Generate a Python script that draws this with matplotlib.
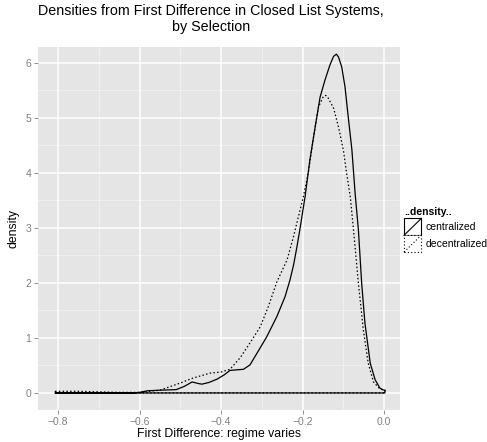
import matplotlib
matplotlib.use("Agg")
import matplotlib.pyplot as plt
from matplotlib.patches import Rectangle
from matplotlib.lines import Line2D
from matplotlib.legend_handler import HandlerBase

plt.rcParams['font.family'] = ['Liberation Sans', 'DejaVu Sans']

# ---- data ----
cent_x = [-0.807, -0.70, -0.62, -0.60, -0.58, -0.55, -0.51, -0.49, -0.471, -0.455, -0.447,
          -0.43, -0.41, -0.392, -0.378, -0.345, -0.329, -0.312, -0.288, -0.263, -0.243,
          -0.231, -0.222, -0.214, -0.206, -0.199, -0.194, -0.182, -0.169, -0.157, -0.145,
          -0.133, -0.124, -0.117, -0.112, -0.104, -0.096, -0.088, -0.079, -0.071, -0.063,
          -0.055, -0.047, -0.034, -0.022, -0.010, -0.002, 0.002]
cent_y = [0.0, 0.0, 0.0, 0.01, 0.04, 0.05, 0.06, 0.12, 0.2, 0.17, 0.16,
          0.19, 0.25, 0.33, 0.41, 0.43, 0.51, 0.72, 1.02, 1.39, 1.75,
          2.05, 2.33, 2.65, 3.0, 3.33, 3.56, 4.24, 4.84, 5.38, 5.69,
          5.96, 6.12, 6.16, 6.11, 5.93, 5.57, 5.02, 4.42, 3.62, 2.96,
          1.99, 1.27, 0.54, 0.24, 0.085, 0.055, 0.05]
dec_x = [-0.807, -0.75, -0.70, -0.65, -0.60, -0.55, -0.50, -0.469, -0.427, -0.40, -0.378,
         -0.353, -0.329, -0.304, -0.284, -0.263, -0.238, -0.222, -0.206, -0.198, -0.186,
         -0.173, -0.161, -0.149, -0.143, -0.137, -0.124, -0.112, -0.100, -0.092, -0.083,
         -0.075, -0.063, -0.051, -0.039, -0.026, -0.010, 0.002]
dec_y = [0.03, 0.03, 0.02, 0.01, 0.01, 0.05, 0.18, 0.27, 0.36, 0.38, 0.43,
         0.64, 0.91, 1.2, 1.57, 2.02, 2.42, 2.85, 3.33, 3.57, 4.0,
         4.66, 5.2, 5.39, 5.41, 5.36, 5.18, 4.84, 4.42, 4.0, 3.57,
         2.96, 1.99, 1.15, 0.54, 0.2, 0.07, 0.05]
labels = ['centralized', 'decentralized']
x_ticks = [-0.8, -0.6, -0.4, -0.2, 0.0]
x_tick_labels = ['\u22120.8', '\u22120.6', '\u22120.4', '\u22120.2', '0.0']
y_ticks = [0, 1, 2, 3, 4, 5, 6]

W, H = 487, 442
fig = plt.figure(figsize=(W / 100, H / 100), dpi=100)
ax = fig.add_axes([38 / W, 1 - 410 / H, (400 - 38) / W, (410 - 47) / H])
ax.set_facecolor('#E5E5E5')
for s in ax.spines.values():
    s.set_visible(False)

ax.set_xlim(-0.849, 0.039)
ax.set_ylim(-0.31, 6.29)

# grid
for v in [-0.7, -0.5, -0.3, -0.1]:
    ax.axvline(v, color='#F2F2F2', lw=0.6, zorder=0)
for v in [0.5, 1.5, 2.5, 3.5, 4.5, 5.5]:
    ax.axhline(v, color='#F2F2F2', lw=0.6, zorder=0)
for v in x_ticks:
    ax.axvline(v, color='white', lw=1.1, zorder=0)
for v in y_ticks:
    ax.axhline(v, color='white', lw=1.1, zorder=0)

ax.fill(cent_x + [cent_x[-1], cent_x[0]], cent_y + [0, 0], facecolor='none',
        edgecolor='black', lw=0.9, linestyle='-', joinstyle='round', zorder=3)
ax.fill(dec_x + [dec_x[-1], dec_x[0]], dec_y + [0, 0], facecolor='none',
        edgecolor='black', lw=0.9, linestyle=(0, (1.2, 1.8)), joinstyle='round', zorder=3)

ax.set_xticks(x_ticks)
ax.set_xticklabels(x_tick_labels)
ax.set_yticks(y_ticks)
ax.tick_params(axis='both', colors='#7F7F7F', labelsize=7.5, length=3, width=0.6,
               labelcolor='#7F7F7F', pad=2)
ax.set_xlabel('First Difference: regime varies', fontsize=8.8, labelpad=1)
ax.set_ylabel('density', fontsize=8.8, labelpad=4)

fig.text(211 / W, 1 - 4 / H,
         'Densities from First Difference in Closed List Systems,\nby Selection',
         ha='center', va='top', fontsize=10.3, linespacing=1.15)


class BoxHandler(HandlerBase):
    def __init__(self, ls):
        super().__init__()
        self.ls = ls

    def create_artists(self, legend, orig_handle, xdescent, ydescent, width, height, fontsize, trans):
        r = Rectangle((-xdescent, -ydescent), width, height, facecolor='white',
                      edgecolor='black', lw=0.8, linestyle=self.ls, transform=trans)
        ln = Line2D([-xdescent, -xdescent + width], [-ydescent, -ydescent + height],
                    color='black', lw=0.8, linestyle=self.ls, transform=trans)
        return [r, ln]


h1 = Line2D([], [])
h2 = Line2D([], [])
leg = fig.legend([h1, h2], labels, handler_map={h1: BoxHandler('-'), h2: BoxHandler((0, (1, 2)))},
                 loc='upper left', bbox_to_anchor=(402 / W, 1 - 205 / H), frameon=False,
                 title='..density..', fontsize=7.5, handlelength=1.65, handleheight=2.1,
                 handletextpad=0.4, labelspacing=0.0, borderaxespad=0, borderpad=0.2)
leg.get_title().set_fontweight('bold')
leg.get_title().set_fontsize(7.5)
leg._legend_box.align = 'left'
leg._legend_box.sep = 1

fig.savefig('out.png', dpi=100)
